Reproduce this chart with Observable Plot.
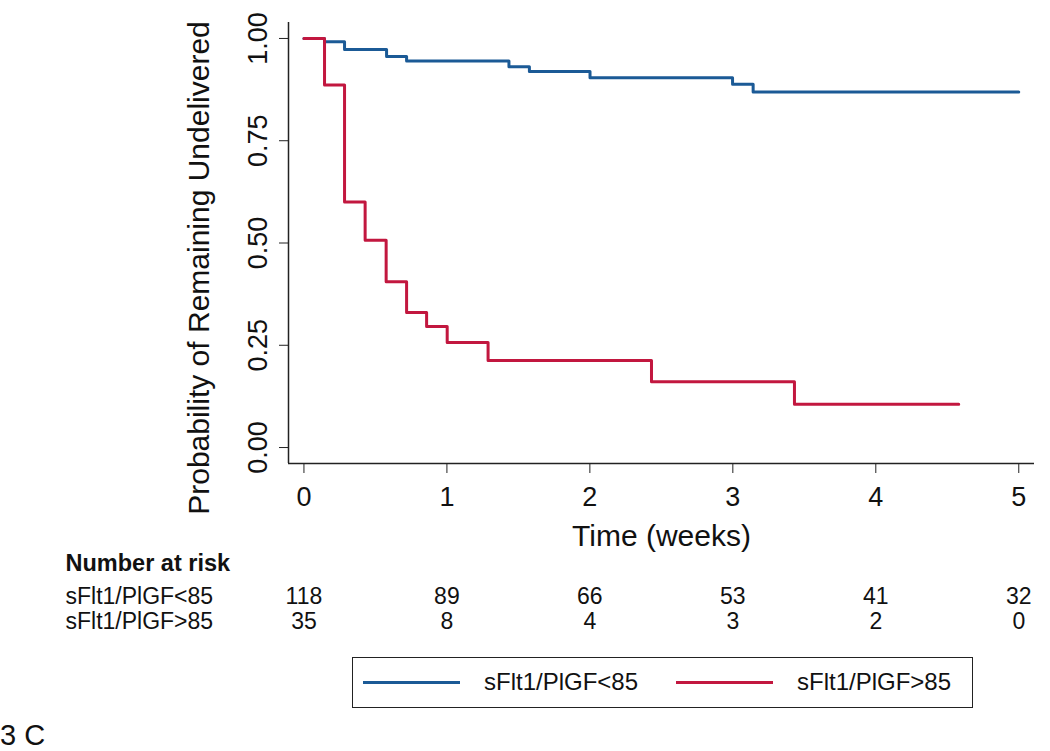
<!DOCTYPE html>
<html>
<head>
<meta charset="utf-8">
<script src="https://cdn.jsdelivr.net/npm/d3@7"></script>
<script src="https://cdn.jsdelivr.net/npm/@observablehq/plot@0.6"></script>
<style>
  html, body { margin: 0; padding: 0; background: #fff; }
  body { width: 1050px; height: 751px; position: relative; overflow: hidden; font-family: "Liberation Sans", Arial, sans-serif; }
  #chart { position: absolute; left: 0; top: 0; }
  #legend { position: absolute; left: 352px; top: 657px; width: 621px; height: 51px; box-sizing: border-box; border: 1.5px solid #222; }
  .item { position: absolute; top: 0; height: 48px; display: flex; align-items: center; font-size: 24px; color: #111; }
  .swatch { width: 97px; height: 3px; margin-right: 24px; }
  #caption { position: absolute; left: 0; top: 720px; font-size: 29px; line-height: 30px; color: #111; }
</style>
</head>
<body>
<div id="chart"></div>
<div id="legend"></div>
<div id="caption">3 C</div>
<script>
// ---- data ----
const groups = ["sFlt1/PlGF<85", "sFlt1/PlGF>85"];
const colors = ["#1b5a96", "#c2173f"];

const lowTimes = [0, 0.144, 0.284, 0.578, 0.718, 1.434, 1.577, 2.001, 2.998, 3.142, 5.0];
const lowSurv  = [1.0, 0.992, 0.973, 0.956, 0.945, 0.931, 0.919, 0.904, 0.888, 0.869, 0.869];

const highTimes = [0, 0.144, 0.284, 0.428, 0.575, 0.718, 0.858, 1.002, 1.288, 2.431, 3.431, 4.58];
const highSurv  = [1.0, 0.886, 0.600, 0.507, 0.405, 0.330, 0.296, 0.257, 0.213, 0.161, 0.106, 0.106];

const riskTimes = [0, 1, 2, 3, 4, 5];
const riskLow  = [118, 89, 66, 53, 41, 32];
const riskHigh = [35, 8, 4, 3, 2, 0];

const xTicks = [0, 1, 2, 3, 4, 5];
const yTicks = [0, 0.25, 0.5, 0.75, 1];
const xDomain = [-0.108, 5.11];
const yDomain = [-0.039, 1.039];

const xTitle = "Time (weeks)";
const yTitle = "Probability of Remaining Undelivered";
const riskTitle = "Number at risk";

// ---- tables ----
const lowData = lowTimes.map((t, i) => ({t, s: lowSurv[i]}));
const highData = highTimes.map((t, i) => ({t, s: highSurv[i]}));
const riskLowData = riskTimes.map((t, i) => ({t, n: riskLow[i]}));
const riskHighData = riskTimes.map((t, i) => ({t, n: riskHigh[i]}));

const font = "Liberation Sans, Arial, sans-serif";

const chart = Plot.plot({
  width: 1050,
  height: 640,
  marginLeft: 288,
  marginRight: 16,
  marginTop: 22,
  marginBottom: 177,
  style: {fontFamily: font, fontSize: "27px", color: "#111", background: "#fff"},
  x: {domain: xDomain},
  y: {domain: yDomain},
  marks: [
    Plot.ruleX([xDomain[0]], {y1: yDomain[0], y2: yDomain[1], stroke: "#222", strokeWidth: 1.5}),
    Plot.ruleY([yDomain[0]], {x1: xDomain[0], x2: xDomain[1], stroke: "#222", strokeWidth: 1.5}),
    Plot.axisX({ticks: xTicks, tickSize: 10, tickPadding: 13.5, tickFormat: d => d3.format("d")(d), label: null, fontSize: 27, stroke: "#222"}),
    Plot.axisY({ticks: yTicks, tickSize: 9, tickPadding: 13, tickRotate: -90, tickFormat: d3.format(".2f"), label: null, fontSize: 27, stroke: "#222"}),
    Plot.line(lowData, {x: "t", y: "s", curve: "step-after", stroke: colors[0], strokeWidth: 3}),
    Plot.line(highData, {x: "t", y: "s", curve: "step-after", stroke: colors[1], strokeWidth: 3}),
    Plot.text([xTitle], {frameAnchor: "bottom", dy: 73, fontSize: 30, lineAnchor: "middle", fill: "#111"}),
    Plot.text([yTitle], {frameAnchor: "left", textAnchor: "middle", dx: -89, dy: 25, rotate: -90, fontSize: 30, lineAnchor: "middle", fill: "#111"}),
    Plot.text([riskTitle], {frameAnchor: "bottom-left", dx: -223, dy: 100, textAnchor: "start", fontWeight: "bold", fontSize: 23.5, lineAnchor: "middle", fill: "#111"}),
    Plot.text([groups[0]], {frameAnchor: "bottom-left", dx: -223, dy: 133, textAnchor: "start", fontSize: 23, lineAnchor: "middle", fill: "#111"}),
    Plot.text([groups[1]], {frameAnchor: "bottom-left", dx: -223, dy: 158, textAnchor: "start", fontSize: 23, lineAnchor: "middle", fill: "#111"}),
    Plot.text(riskLowData, {x: "t", text: "n", frameAnchor: "bottom", dy: 133, fontSize: 23, lineAnchor: "middle", fill: "#111"}),
    Plot.text(riskHighData, {x: "t", text: "n", frameAnchor: "bottom", dy: 158, fontSize: 23, lineAnchor: "middle", fill: "#111"})
  ]
});
document.getElementById("chart").appendChild(chart);

// ---- legend ----
const legend = document.getElementById("legend");
const itemLefts = [10, 323];
groups.forEach((g, i) => {
  const item = document.createElement("div");
  item.className = "item";
  item.style.left = itemLefts[i] + "px";
  const sw = document.createElement("div");
  sw.className = "swatch";
  sw.style.background = colors[i];
  const label = document.createElement("span");
  label.textContent = g;
  item.appendChild(sw);
  item.appendChild(label);
  legend.appendChild(item);
});
</script>
</body>
</html>
